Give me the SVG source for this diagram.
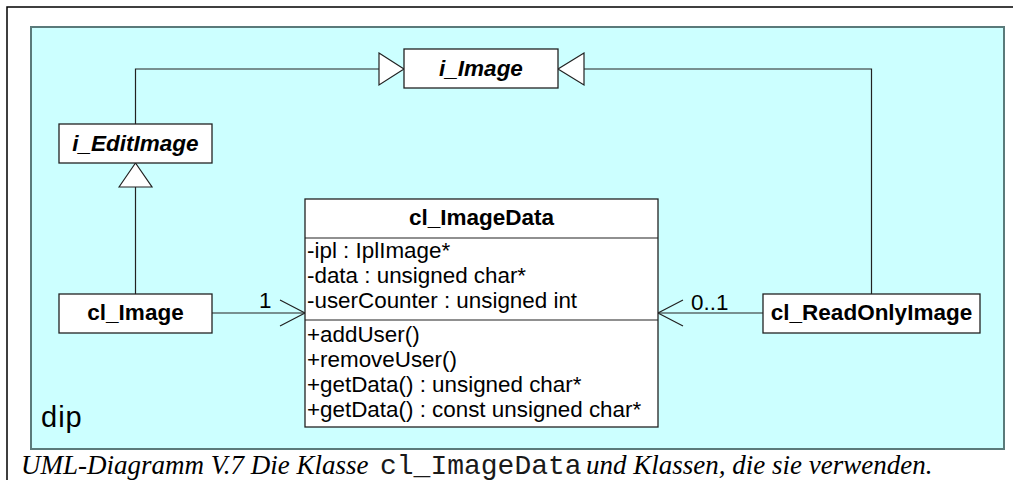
<svg xmlns="http://www.w3.org/2000/svg" width="1013" height="480" viewBox="0 0 1013 480">
  <style>
    .box { fill: #ffffff; stroke: #222222; stroke-width: 1.3; }
    .line { fill: none; stroke: #222222; stroke-width: 1.2; }
    .tri { fill: #ffffff; stroke: #222222; stroke-width: 1.2; }
    .bold { font-family: "Liberation Sans", Arial, sans-serif; font-size: 22.5px; font-weight: bold; fill: #000000; }
    .it { font-style: italic; }
    .reg { font-family: "Liberation Sans", Arial, sans-serif; font-size: 22.4px; fill: #000000; }
    .pkg { font-family: "Liberation Sans", Arial, sans-serif; font-size: 29px; letter-spacing: 1px; fill: #000000; }
    .cap { font-family: "Liberation Serif", "Times New Roman", serif; font-size: 27px; font-style: italic; fill: #000000; }
    .mono { font-family: "Liberation Mono", "Courier New", monospace; font-size: 28px; fill: #1a1a1a; }
  </style>
  <rect x="0" y="0" width="1013" height="480" fill="#ffffff"/>
  <path d="M7,480 V7 H1013" fill="none" stroke="#000000" stroke-width="1.5"/>
  <g id="package-dip">
    <rect x="31" y="27" width="973" height="422" fill="#CCFFFF" stroke="#5a7a7a" stroke-width="2"/>
    <text class="pkg" x="41" y="427">dip</text>
  </g>
  <g id="connectors">
    <polyline class="line" points="135.5,124 135.5,69 379,69"/>
    <polygon class="tri" points="379,53 404,69 379,85"/>
    <polyline class="line" points="871.5,294 871.5,69 584,69"/>
    <polygon class="tri" points="584,53 558,69 584,85"/>
    <line class="line" x1="135.5" y1="294" x2="135.5" y2="187"/>
    <polygon class="tri" points="119,187 135.5,163 152,187"/>
    <line class="line" x1="212" y1="313" x2="305" y2="313"/>
    <polyline class="line" points="280,300 305,313 280,326"/>
    <text class="reg" x="259" y="308">1</text>
    <line class="line" x1="763" y1="313" x2="658" y2="313"/>
    <polyline class="line" points="683,300 658,313 683,326"/>
    <text class="reg" x="691" y="310">0..1</text>
  </g>
  <g id="i_Image">
    <rect class="box" x="404" y="49" width="154" height="39"/>
    <text class="bold it" x="481" y="76" text-anchor="middle">i_Image</text>
  </g>
  <g id="i_EditImage">
    <rect class="box" x="59" y="124" width="153" height="39"/>
    <text class="bold it" x="135.5" y="151" text-anchor="middle">i_EditImage</text>
  </g>
  <g id="cl_Image">
    <rect class="box" x="59" y="294" width="153" height="39"/>
    <text class="bold" x="135.5" y="320" text-anchor="middle">cl_Image</text>
  </g>
  <g id="cl_ReadOnlyImage">
    <rect class="box" x="763" y="294" width="217" height="39"/>
    <text class="bold" x="871.5" y="320" text-anchor="middle">cl_ReadOnlyImage</text>
  </g>
  <g id="cl_ImageData">
    <rect class="box" x="305" y="199" width="353" height="228"/>
    <line class="line" x1="305" y1="238" x2="658" y2="238"/>
    <line class="line" x1="305" y1="320" x2="658" y2="320"/>
    <text class="bold" x="481.5" y="225" text-anchor="middle">cl_ImageData</text>
    <text class="reg" x="307" y="258">-ipl : IplImage*</text>
    <text class="reg" x="307" y="283">-data : unsigned char*</text>
    <text class="reg" x="307" y="308">-userCounter : unsigned int</text>
    <text class="reg" x="307" y="342">+addUser()</text>
    <text class="reg" x="307" y="367">+removeUser()</text>
    <text class="reg" x="307" y="392">+getData() : unsigned char*</text>
    <text class="reg" x="307" y="417">+getData() : const unsigned char*</text>
  </g>
  <g id="caption">
    <text class="cap" x="21" y="474">UML-Diagramm V.7 Die Klasse</text>
    <text class="mono" x="380" y="474">cl_ImageData</text>
    <text class="cap" x="586" y="474">und Klassen, die sie verwenden.</text>
  </g>
</svg>
